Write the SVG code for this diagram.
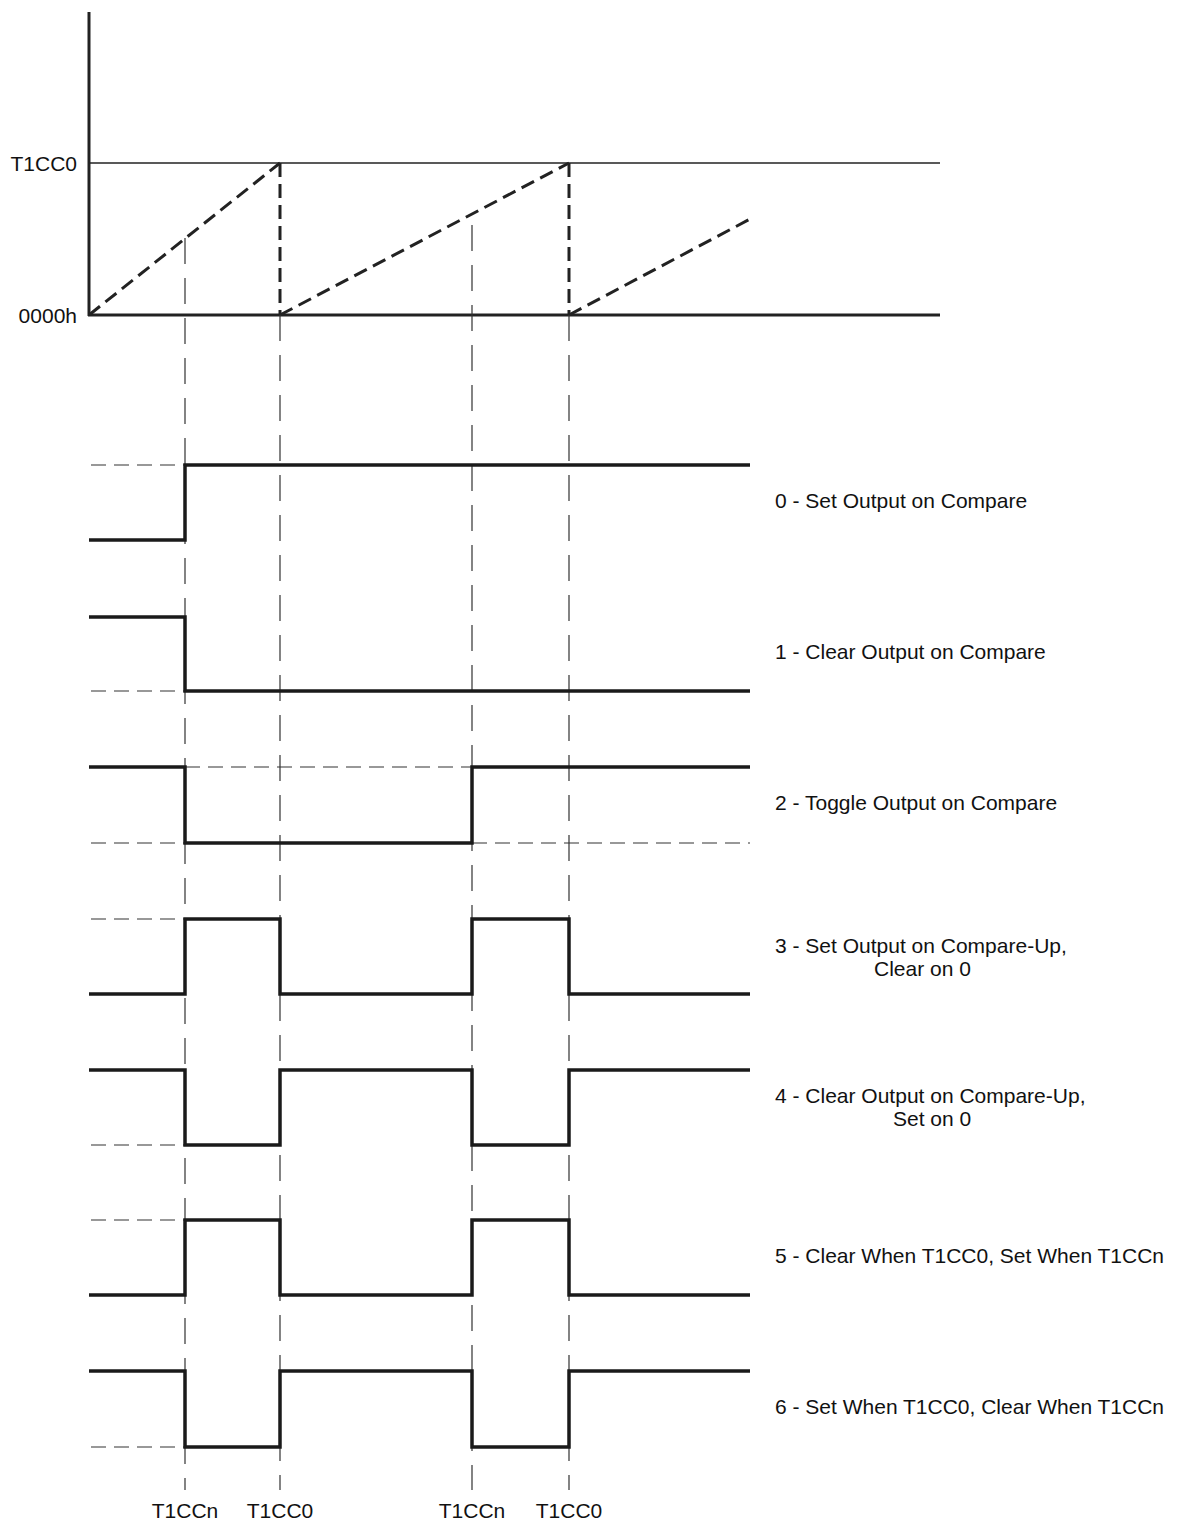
<svg xmlns="http://www.w3.org/2000/svg" width="1178" height="1525" viewBox="0 0 1178 1525">
<style>
text{font-family:"Liberation Sans",Arial,sans-serif;font-size:21px;fill:#111}
.ax{stroke:#222;stroke-width:3;fill:none}
.thin{stroke:#222;stroke-width:1.5;fill:none}
.ramp{stroke:#222;stroke-width:3;stroke-dasharray:14,7;fill:none}
.guide{stroke:#333;stroke-width:1.2;stroke-dasharray:26,14;fill:none}
.ref{stroke:#333;stroke-width:1.2;stroke-dasharray:15,8;fill:none}
.wave{stroke:#1a1a1a;stroke-width:3.5;fill:none;stroke-linejoin:miter}
.lbl{text-anchor:middle}
</style>
<rect width="1178" height="1525" fill="#fff"/>
<g id="axes">
<line class="ax" x1="89" y1="12" x2="89" y2="316"/>
<line class="ax" x1="88" y1="315" x2="940" y2="315"/>
<line class="thin" x1="89" y1="163" x2="940" y2="163"/>
<text x="77" y="171" text-anchor="end">T1CC0</text>
<text x="77" y="323" text-anchor="end">0000h</text>
</g>
<g id="ramp">
<line class="ramp" x1="89" y1="315" x2="280" y2="163"/>
<line class="ramp" x1="280" y1="163" x2="280" y2="315"/>
<line class="ramp" x1="280" y1="315" x2="569" y2="163"/>
<line class="ramp" x1="569" y1="163" x2="569" y2="315"/>
<line class="ramp" x1="569" y1="315" x2="752" y2="218"/>
</g>
<g id="connectors">
<line class="guide" x1="185" y1="238" x2="185" y2="1490"/>
<line class="guide" x1="280" y1="315" x2="280" y2="1490"/>
<line class="guide" x1="472" y1="225" x2="472" y2="1490"/>
<line class="guide" x1="569" y1="315" x2="569" y2="1490"/>
</g>
<g id="refs">
<line class="ref" x1="91" y1="465" x2="185" y2="465"/>
<line class="ref" x1="91" y1="691" x2="185" y2="691"/>
<line class="ref" x1="185" y1="767" x2="472" y2="767"/>
<line class="ref" x1="91" y1="843" x2="185" y2="843"/>
<line class="ref" x1="472" y1="843" x2="750" y2="843"/>
<line class="ref" x1="91" y1="919" x2="185" y2="919"/>
<line class="ref" x1="91" y1="1145" x2="185" y2="1145"/>
<line class="ref" x1="91" y1="1220" x2="185" y2="1220"/>
<line class="ref" x1="91" y1="1447" x2="185" y2="1447"/>
</g>
<g id="wave0">
<polyline class="wave" points="89,540 185,540 185,465 750,465"/>
<text x="775" y="508">0 - Set Output on Compare</text>
</g>
<g id="wave1">
<polyline class="wave" points="89,617 185,617 185,691 750,691"/>
<text x="775" y="659">1 - Clear Output on Compare</text>
</g>
<g id="wave2">
<polyline class="wave" points="89,767 185,767 185,843 472,843 472,767 750,767"/>
<text x="775" y="810">2 - Toggle Output on Compare</text>
</g>
<g id="wave3">
<polyline class="wave" points="89,994 185,994 185,919 280,919 280,994 472,994 472,919 569,919 569,994 750,994"/>
<text x="775" y="953">3 - Set Output on Compare-Up,</text>
<text x="874" y="976">Clear on 0</text>
</g>
<g id="wave4">
<polyline class="wave" points="89,1070 185,1070 185,1145 280,1145 280,1070 472,1070 472,1145 569,1145 569,1070 750,1070"/>
<text x="775" y="1103">4 - Clear Output on Compare-Up,</text>
<text x="893" y="1126">Set on 0</text>
</g>
<g id="wave5">
<polyline class="wave" points="89,1295 185,1295 185,1220 280,1220 280,1295 472,1295 472,1220 569,1220 569,1295 750,1295"/>
<text x="775" y="1263">5 - Clear When T1CC0, Set When T1CCn</text>
</g>
<g id="wave6">
<polyline class="wave" points="89,1371 185,1371 185,1447 280,1447 280,1371 472,1371 472,1447 569,1447 569,1371 750,1371"/>
<text x="775" y="1414">6 - Set When T1CC0, Clear When T1CCn</text>
</g>
<g id="ticks">
<text class="lbl" x="185" y="1518">T1CCn</text>
<text class="lbl" x="280" y="1518">T1CC0</text>
<text class="lbl" x="472" y="1518">T1CCn</text>
<text class="lbl" x="569" y="1518">T1CC0</text>
</g>
</svg>
